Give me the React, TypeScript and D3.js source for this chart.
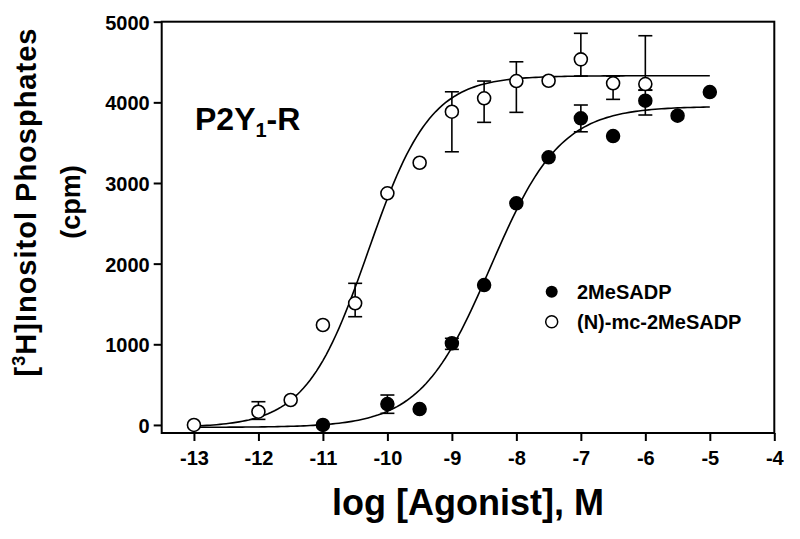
import React, { useEffect, useRef } from 'react'
import * as d3 from 'd3'

// 2MeSADP (filled circles)
const filledLogConc = [-11, -10, -9.5, -9, -8.5, -8, -7.5, -7, -6.5, -6, -5.5, -5]
const filledCpm = [0, 259, 197, 1012, 1735, 2748, 3318, 3802, 3582, 4020, 3834, 4128]
const filledErrLow = [null, 144, null, 937, null, null, null, 3635, null, 3843, null, null]
const filledErrHigh = [null, 371, null, 1074, null, null, null, 3967, null, 4150, null, null]

// (N)-mc-2MeSADP (open circles)
const openLogConc = [-13, -12, -11.5, -11, -10.5, -10, -9.5, -9, -8.5, -8, -7.5, -7, -6.5, -6]
const openCpm = [0, 164, 309, 1239, 1508, 2872, 3251, 3884, 4050, 4264, 4268, 4533, 4236, 4227]
const openErrLow = [null, 69, null, null, 1342, null, null, 3387, 3752, 3876, null, 4326, 4037, 4153]
const openErrHigh = [null, 288, null, null, 1756, null, null, 4131, 4264, 4503, null, 4856, 4326, 4826]

// sigmoid fit parameters: [bottom, top, logEC50, hill]
const filledFit = [-30, 3950, -8.4, 0.8]
const openFit = [-30, 4330, -10.3, 0.9]
const fitRange = [-13, -5]

const xTicks = [-13, -12, -11, -10, -9, -8, -7, -6, -5, -4]
const yTicks = [0, 1000, 2000, 3000, 4000, 5000]
const legendLabels = ['2MeSADP', '(N)-mc-2MeSADP']

const FONT = '"Liberation Sans", Arial, Helvetica, sans-serif'

function App() {
    const xAxisRef = useRef(null)
    const yAxisRef = useRef(null)

    // plot box
    const left = 161.7, right = 774.3, top = 21.7, bottom = 433

    const x = d3.scaleLinear().domain([-13.5, -4]).range([left, right])
    const y = d3.scaleLinear().domain([-100, 5000]).range([bottom, top])

    useEffect(() => {
        const xAxis = d3.axisBottom(x).tickValues(xTicks).tickSize(8).tickPadding(10).tickFormat(d => String(d))
        const gx = d3.select(xAxisRef.current).call(xAxis)
        gx.select('.domain').remove()
        gx.selectAll('line').attr('stroke', '#000').attr('stroke-width', 2)
        gx.selectAll('text').attr('font-size', 20).attr('font-weight', 'bold').attr('font-family', FONT).attr('fill', '#000')

        const yAxis = d3.axisLeft(y).tickValues(yTicks).tickSize(8).tickPadding(4).tickFormat(d => String(d))
        const gy = d3.select(yAxisRef.current).call(yAxis)
        gy.select('.domain').remove()
        gy.selectAll('line').attr('stroke', '#000').attr('stroke-width', 2)
        gy.selectAll('text').attr('font-size', 20).attr('font-weight', 'bold').attr('font-family', FONT).attr('fill', '#000').attr('dy', '0.38em')
    }, [])

    const sigmoid = (p, v) => p[0] + (p[1] - p[0]) / (1 + Math.pow(10, (p[2] - v) * p[3]))
    const fitXs = d3.range(fitRange[0], fitRange[1] + 0.001, 0.05)
    const line = d3.line().x(d => x(d[0])).y(d => y(d[1]))
    const fitPath = p => line(fitXs.map(v => [v, sigmoid(p, v)]))

    const errBars = (xs, lo, hi, key) => xs.map((v, i) => {
        if (lo[i] == null) return null
        const cx = x(v)
        return (
            <g key={key + i} stroke="#000" strokeWidth={1.6}>
                <line x1={cx} x2={cx} y1={y(lo[i])} y2={y(hi[i])} />
                <line x1={cx - 7} x2={cx + 7} y1={y(lo[i])} y2={y(lo[i])} />
                <line x1={cx - 7} x2={cx + 7} y1={y(hi[i])} y2={y(hi[i])} />
            </g>
        )
    })

    return (
        <svg width={800} height={539} style={{ position: 'absolute', left: 0, top: 0, background: '#fff' }}>
            {/* frame */}
            <rect x={left} y={top} width={right - left} height={bottom - top} fill="none" stroke="#000" strokeWidth={2} />
            <g ref={xAxisRef} transform={`translate(0,${bottom})`} />
            <g ref={yAxisRef} transform={`translate(${left},0)`} />

            {errBars(openLogConc, openErrLow, openErrHigh, 'oe')}
            {errBars(filledLogConc, filledErrLow, filledErrHigh, 'fe')}

            <path d={fitPath(openFit)} fill="none" stroke="#000" strokeWidth={1.6} />
            <path d={fitPath(filledFit)} fill="none" stroke="#000" strokeWidth={1.6} />

            {filledLogConc.map((v, i) => (
                <circle key={'f' + i} cx={x(v)} cy={y(filledCpm[i])} r={6.5} fill="#000" stroke="#000" strokeWidth={1.5} />
            ))}
            {openLogConc.map((v, i) => (
                <circle key={'o' + i} cx={x(v)} cy={y(openCpm[i])} r={6.5} fill="#fff" stroke="#000" strokeWidth={1.6} />
            ))}

            {/* legend */}
            <circle cx={551.7} cy={291.7} r={6} fill="#000" />
            <circle cx={551.7} cy={321.7} r={6} fill="#fff" stroke="#000" strokeWidth={1.5} />
            <text x={577} y={298.5} fontFamily={FONT} fontWeight="bold" fontSize={20}>{legendLabels[0]}</text>
            <text x={577} y={328.5} fontFamily={FONT} fontWeight="bold" fontSize={20}>{legendLabels[1]}</text>

            {/* panel label */}
            <text x={195} y={130} fontFamily={FONT} fontWeight="bold" fontSize={32}>
                P2Y<tspan fontSize={20} dy={7}>1</tspan><tspan dy={-7}>-R</tspan>
            </text>

            {/* axis titles */}
            <text transform="translate(36,202) rotate(-90)" textAnchor="middle" fontFamily={FONT} fontWeight="bold" fontSize={29} letterSpacing={1}>
                [<tspan fontSize={18} dy={-11}>3</tspan><tspan dy={11}>H]Inositol Phosphates</tspan>
            </text>
            <text transform="translate(80,202) rotate(-90)" textAnchor="middle" fontFamily={FONT} fontWeight="bold" fontSize={27}>(cpm)</text>
            <text x={468} y={515} textAnchor="middle" fontFamily={FONT} fontWeight="bold" fontSize={36}>log [Agonist], M</text>
        </svg>
    )
}

export default App
